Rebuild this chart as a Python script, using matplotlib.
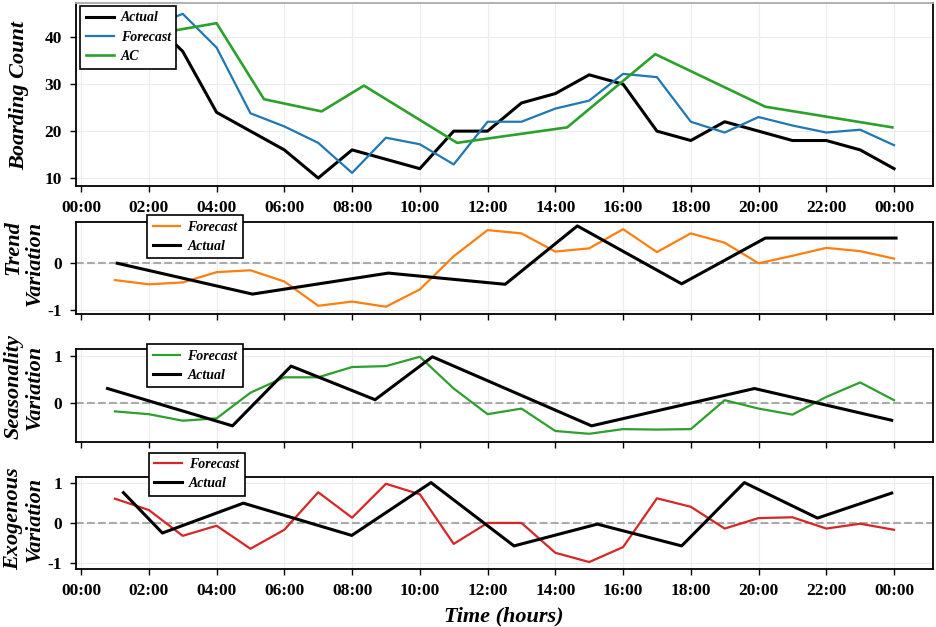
import matplotlib.pyplot as plt

plt.rcParams['font.family'] = ['Liberation Serif', 'DejaVu Serif']
plt.rcParams['axes.unicode_minus'] = False

# hourly forecast points, 01:00 .. 24:00
HOURS = list(range(1, 25))

TICK_HOURS = [0, 2, 4, 6, 8, 10, 12, 14, 16, 18, 20, 22, 24]
TICK_LABELS = ['00:00', '02:00', '04:00', '06:00', '08:00', '10:00', '12:00',
               '14:00', '16:00', '18:00', '20:00', '22:00', '00:00']

# Boarding count panel
boardActual = [42, 44, 37, 24, 20, 16, 10, 16, 14, 12, 20, 20,
               26, 28, 32, 30, 20, 18, 22, 20, 18, 18, 16, 12]
boardForecast = [40, 42, 45, 37.8, 23.8, 21, 17.5, 11.1, 18.6, 17.2, 12.9, 22,
                 22, 24.8, 26.5, 32.2, 31.5, 22, 19.7, 23, 21.2, 19.7, 20.3, 17]
acTimes = [1.0, 2.0, 4.0, 5.4, 7.1, 8.35, 11.1, 14.35, 16.95, 20.2, 23.95]
acValues = [39, 40.5, 43, 26.8, 24.2, 29.7, 17.5, 20.8, 36.4, 25.2, 20.8]

# Trend panel
trendForecast = [-0.36, -0.45, -0.41, -0.19, -0.15, -0.39, -0.91, -0.82, -0.93, -0.56, 0.15, 0.71,
                 0.64, 0.25, 0.32, 0.73, 0.24, 0.64, 0.44, 0.0, 0.16, 0.33, 0.26, 0.1]
trendActualTimes = [1.07, 5.06, 9.07, 12.52, 14.65, 17.73, 20.2, 24.06]
trendActualValues = [0.0, -0.66, -0.21, -0.45, 0.8, -0.44, 0.54, 0.54]

# Seasonality panel
seasonForecast = [-0.19, -0.25, -0.39, -0.34, 0.21, 0.54, 0.54, 0.76, 0.78, 0.98, 0.3, -0.25,
                  -0.13, -0.61, -0.67, -0.57, -0.58, -0.57, 0.05, -0.13, -0.26, 0.12, 0.43, 0.05]
seasonActualTimes = [0.78, 4.47, 6.2, 8.68, 10.37, 15.07, 19.88, 23.93]
seasonActualValues = [0.3, -0.5, 0.78, 0.06, 0.98, -0.5, 0.3, -0.38]

# Exogenous panel
exoForecast = [0.6, 0.32, -0.32, -0.07, -0.64, -0.17, 0.76, 0.13, 0.97, 0.71, -0.52, 0.0,
               0.0, -0.74, -0.97, -0.6, 0.61, 0.4, -0.14, 0.12, 0.14, -0.14, -0.02, -0.17]
exoActualTimes = [1.25, 2.4, 4.79, 7.99, 10.33, 12.78, 15.24, 17.73, 19.58, 21.74, 23.93]
exoActualValues = [0.75, -0.25, 0.49, -0.31, 1.0, -0.57, -0.03, -0.57, 1.0, 0.12, 0.74]

BLACK_LW = 2.2
COLOR_LW = 1.6
LEGEND_FONT = dict(weight='bold', style='italic', size=10)
LABEL_FONT = dict(weight='bold', style='italic', size=16)


def styleAxis(ax, showLabels):
    ax.set_xlim(-0.15, 25.15)
    ax.set_xticks(TICK_HOURS)
    if showLabels:
        ax.set_xticklabels(TICK_LABELS)
    else:
        ax.set_xticklabels([])
    ax.tick_params(direction='out', length=4, width=1, pad=6, labelsize=12.5)
    for lab in ax.get_xticklabels() + ax.get_yticklabels():
        lab.set_fontweight('bold')
    ax.grid(True, color='#ececec', lw=0.8)
    ax.set_axisbelow(True)
    for sp in ax.spines.values():
        sp.set_color('black')
        sp.set_linewidth(1.3)


def addLegend(ax, anchor):
    leg = ax.legend(loc='upper left', bbox_to_anchor=anchor, borderaxespad=0,
                    prop=LEGEND_FONT, fancybox=False, framealpha=1, edgecolor='black',
                    handlelength=2.0, handletextpad=0.5, labelspacing=0.45)
    leg.get_frame().set_linewidth(1.2)
    leg.set_zorder(10)


fig = plt.figure(figsize=(9.36, 6.27), dpi=100)
left, width = 0.0812, 0.9156

# Top panel: boarding count
ax1 = fig.add_axes([left, 0.7033, width, 0.2919])
ax1.plot(HOURS, boardActual, color='black', lw=BLACK_LW, label='Actual')
ax1.plot(HOURS, boardForecast, color='#1f77b4', lw=COLOR_LW, label='Forecast')
ax1.plot(acTimes, acValues, color='#2ca02c', lw=COLOR_LW + 0.3, label='AC')
ax1.set_ylim(8.3, 47.3)
ax1.set_yticks([10, 20, 30, 40])
styleAxis(ax1, True)
ax1.spines['top'].set_color('#aaaaaa')
addLegend(ax1, (0.005, 0.984))

# Trend panel
ax2 = fig.add_axes([left, 0.4992, width, 0.1472])
ax2.axhline(0, color='#aaaaaa', ls='--', lw=1.5, zorder=1)
ax2.plot(HOURS, trendForecast, color='#ff7f0e', lw=COLOR_LW, label='Forecast')
ax2.plot(trendActualTimes, trendActualValues, color='black', lw=BLACK_LW, label='Actual')
ax2.set_ylim(-1.086, 0.89)
ax2.set_yticks([-1, 0])
styleAxis(ax2, False)
addLegend(ax2, (0.083, 1.073))

# Seasonality panel
ax3 = fig.add_axes([left, 0.2955, width, 0.1474])
ax3.axhline(0, color='#aaaaaa', ls='--', lw=1.5, zorder=1)
ax3.plot(HOURS, seasonForecast, color='#2ca02c', lw=COLOR_LW, label='Forecast')
ax3.plot(seasonActualTimes, seasonActualValues, color='black', lw=BLACK_LW, label='Actual')
ax3.set_ylim(-0.84, 1.14)
ax3.set_yticks([0, 1])
styleAxis(ax3, False)
addLegend(ax3, (0.083, 1.057))

# Exogenous panel
ax4 = fig.add_axes([left, 0.0920, width, 0.1467])
ax4.axhline(0, color='#aaaaaa', ls='--', lw=1.5, zorder=1)
ax4.plot(HOURS, exoForecast, color='#d62728', lw=COLOR_LW, label='Forecast')
ax4.plot(exoActualTimes, exoActualValues, color='black', lw=BLACK_LW, label='Actual')
ax4.set_ylim(-1.15, 1.13)
ax4.set_yticks([-1, 0, 1])
styleAxis(ax4, True)
addLegend(ax4, (0.085, 1.27))

# axis titles
fig.text(19 / 936, 1 - 96 / 627, 'Boarding Count', rotation=90, ha='center', va='center', **LABEL_FONT)
fig.text(24 / 936, 1 - 263 / 627, 'Trend\nVariation', rotation=90, ha='center', va='center',
         multialignment='right', linespacing=1.1, **LABEL_FONT)
fig.text(24 / 936, 1 - 387 / 627, 'Seasonality\nVariation', rotation=90, ha='center', va='center',
         multialignment='center', linespacing=1.1, **LABEL_FONT)
fig.text(24 / 936, 1 - 519 / 627, 'Exogenous\nVariation', rotation=90, ha='center', va='center',
         multialignment='center', linespacing=1.1, **LABEL_FONT)
fig.text(504 / 936, 1 - 616 / 627, 'Time (hours)', ha='center', va='center', **LABEL_FONT)

fig.savefig('out.png', dpi=100)
